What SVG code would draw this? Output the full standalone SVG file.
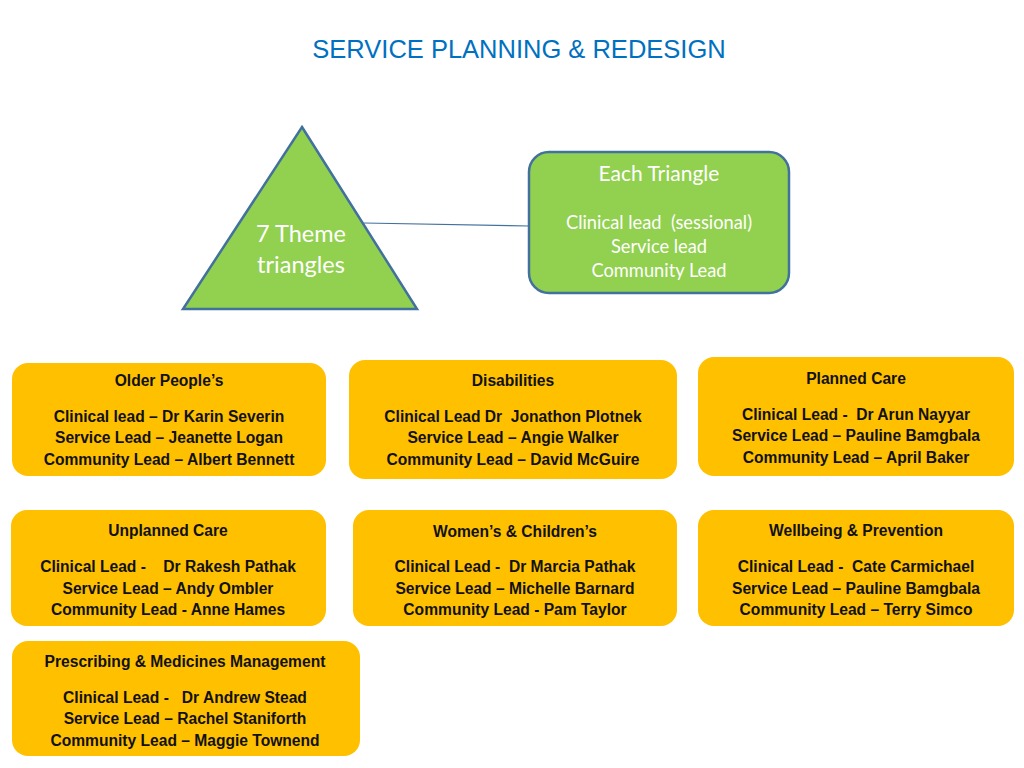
<svg xmlns="http://www.w3.org/2000/svg" width="1024" height="768" viewBox="0 0 1024 768">
<style>
text{white-space:pre;}
.box{fill:#FFC000;}
.t{font-family:"Liberation Sans",Arial,sans-serif;font-weight:bold;font-size:15.6px;fill:#111;text-anchor:middle;}
.g{font-family:Lato,"Open Sans",sans-serif;fill:#fff;text-anchor:middle;}
.gs{fill:#92D050;stroke:#41719C;stroke-width:2.5;}
</style>
<rect width="1024" height="768" fill="#fff"/>
<text x="519" y="58" font-family="Liberation Sans,Arial,sans-serif" font-size="25.5" fill="#0070C0" text-anchor="middle">SERVICE PLANNING &amp; REDESIGN</text>
<g id="connectors">
<line x1="364" y1="223" x2="529" y2="226" stroke="#41719C" stroke-width="1.2"/>
</g>
<g id="triangle">
<polygon class="gs" points="302,127 417,309 183,309"/>
<text class="g" x="301" y="242" font-size="23.5">7 Theme</text>
<text class="g" x="301" y="273" font-size="23.5">triangles</text>
</g>
<g id="each">
<rect class="gs" x="529" y="152" width="260" height="141" rx="20"/>
<text class="g" x="659" y="181" font-size="21">Each Triangle</text>
<text class="g" x="659" y="229" font-size="18.3">Clinical lead  (sessional)</text>
<text class="g" x="659" y="253" font-size="18.3">Service lead</text>
<text class="g" x="659" y="277" font-size="18.3">Community Lead</text>
</g>
<g id="older">
<rect class="box" x="12" y="363" width="314" height="113" rx="16"/>
<text class="t" x="169" y="386">Older People’s</text>
<text class="t" x="169" y="422">Clinical lead – Dr Karin Severin</text>
<text class="t" x="169" y="443">Service Lead – Jeanette Logan</text>
<text class="t" x="169" y="465">Community Lead – Albert Bennett</text>
</g>
<g id="disabilities">
<rect class="box" x="349" y="360" width="328" height="119" rx="16"/>
<text class="t" x="513" y="386">Disabilities</text>
<text class="t" x="513" y="422">Clinical Lead Dr  Jonathon Plotnek</text>
<text class="t" x="513" y="443">Service Lead – Angie Walker</text>
<text class="t" x="513" y="465">Community Lead – David McGuire</text>
</g>
<g id="planned">
<rect class="box" x="698" y="357" width="316" height="119" rx="16"/>
<text class="t" x="856" y="384">Planned Care</text>
<text class="t" x="856" y="420">Clinical Lead -  Dr Arun Nayyar</text>
<text class="t" x="856" y="441">Service Lead – Pauline Bamgbala</text>
<text class="t" x="856" y="463">Community Lead – April Baker</text>
</g>
<g id="unplanned">
<rect class="box" x="11" y="510" width="315" height="116" rx="16"/>
<text class="t" x="168" y="536">Unplanned Care</text>
<text class="t" x="168" y="572">Clinical Lead -    Dr Rakesh Pathak</text>
<text class="t" x="168" y="594">Service Lead – Andy Ombler</text>
<text class="t" x="168" y="615">Community Lead - Anne Hames</text>
</g>
<g id="women">
<rect class="box" x="353" y="510" width="324" height="116" rx="16"/>
<text class="t" x="515" y="537">Women’s &amp; Children’s</text>
<text class="t" x="515" y="572">Clinical Lead -  Dr Marcia Pathak</text>
<text class="t" x="515" y="594">Service Lead – Michelle Barnard</text>
<text class="t" x="515" y="615">Community Lead - Pam Taylor</text>
</g>
<g id="wellbeing">
<rect class="box" x="698" y="510" width="316" height="116" rx="16"/>
<text class="t" x="856" y="536">Wellbeing &amp; Prevention</text>
<text class="t" x="856" y="572">Clinical Lead -  Cate Carmichael</text>
<text class="t" x="856" y="594">Service Lead – Pauline Bamgbala</text>
<text class="t" x="856" y="615">Community Lead – Terry Simco</text>
</g>
<g id="prescribing">
<rect class="box" x="12" y="641" width="348" height="115" rx="16"/>
<text class="t" x="185" y="667">Prescribing &amp; Medicines Management</text>
<text class="t" x="185" y="703">Clinical Lead -   Dr Andrew Stead</text>
<text class="t" x="185" y="724">Service Lead – Rachel Staniforth</text>
<text class="t" x="185" y="746">Community Lead – Maggie Townend</text>
</g>
</svg>
